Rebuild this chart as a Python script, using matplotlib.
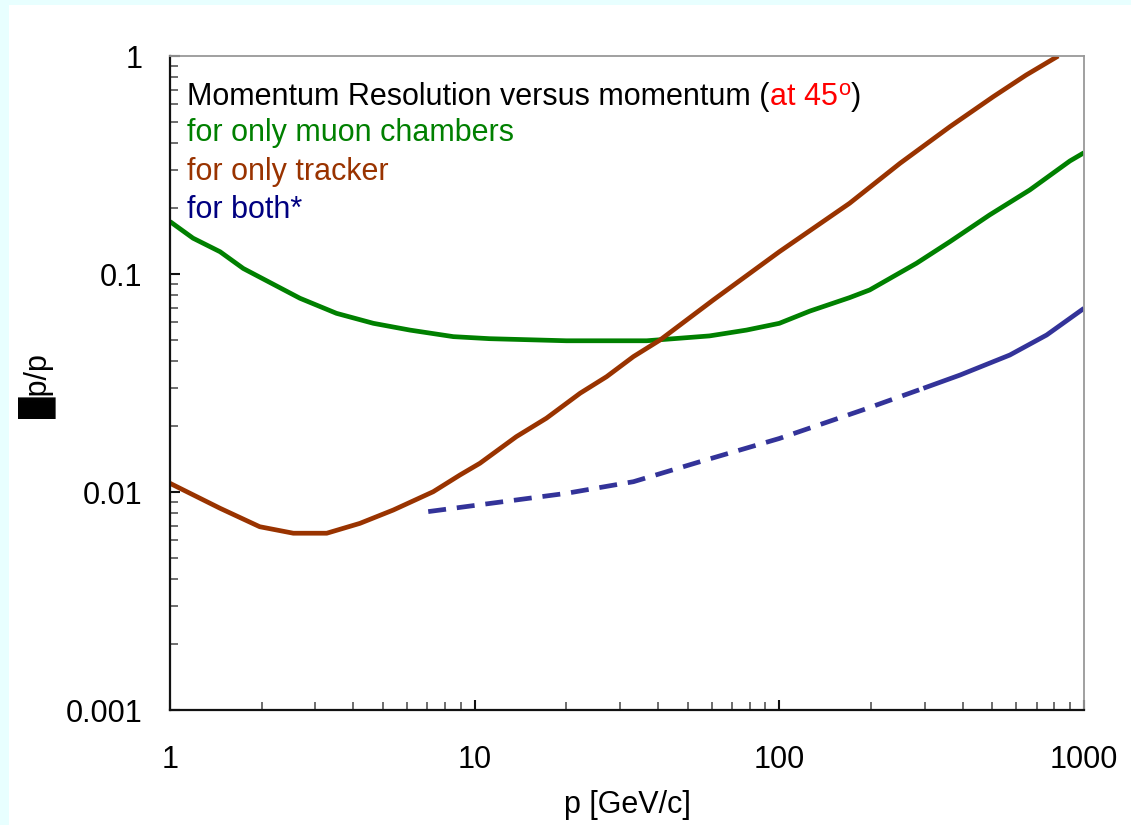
import matplotlib
matplotlib.use("Agg")
import matplotlib.pyplot as plt
from matplotlib.patches import Rectangle
from matplotlib.ticker import LogLocator, NullFormatter, FixedLocator, FixedFormatter

# ---- data ----
muon_p = [1, 1.19, 1.46, 1.74, 2.67, 3.52, 4.65, 6.13, 8.51, 11.2, 20, 36.7, 59, 78,
          100, 126, 170, 198, 282, 363, 490, 664, 899, 1000]
muon_v = [0.174, 0.146, 0.1265, 0.106, 0.0774, 0.066, 0.0594, 0.0553, 0.0516, 0.0505,
          0.0494, 0.0494, 0.052, 0.0553, 0.0594, 0.0676, 0.0779, 0.0845, 0.112, 0.1407,
          0.1866, 0.243, 0.33, 0.36]

tracker_p = [1, 1.46, 1.97, 2.54, 3.27, 4.2, 5.41, 7.31, 8.95, 10.4, 13.7, 17.2, 22.2,
             27.1, 33.2, 40.6, 60.7, 100, 170, 249, 363, 504, 646, 823]
tracker_v = [0.01096, 0.00842, 0.00693, 0.00647, 0.00647, 0.00718, 0.00827, 0.01003,
             0.01197, 0.01354, 0.01794, 0.0218, 0.0284, 0.0338, 0.0418, 0.0498, 0.076,
             0.1265, 0.211, 0.322, 0.474, 0.651, 0.818, 1.0]

both_dash_p = [7.04, 20, 33.2, 54.9, 100, 188, 297]
both_dash_v = [0.00813, 0.00986, 0.01115, 0.01377, 0.0176, 0.0238, 0.0299]
both_solid_p = [297, 392, 571, 754, 1000]
both_solid_v = [0.0299, 0.0344, 0.0425, 0.0525, 0.0696]

x_ticks = [1, 10, 100, 1000]
x_ticklabels = ["1", "10", "100", "1000"]
y_ticks = [0.001, 0.01, 0.1, 1]
y_ticklabels = ["0.001", "0.01", "0.1", "1"]

GREEN = "#008000"
BROWN = "#993300"
BLUE = "#333399"
NAVY = "#000080"

plt.rcParams["font.family"] = ["Liberation Sans", "DejaVu Sans"]
FS = 22

W, H = 1131, 825
fig = plt.figure(figsize=(W / 100, H / 100), dpi=100, facecolor="white")
# light cyan border strips
fig.patches.append(Rectangle((0, 0), 9 / W, 1, transform=fig.transFigure,
                             facecolor="#E8FFFF", edgecolor="none", zorder=-10))
fig.patches.append(Rectangle((0, 1 - 5 / H), 1, 5 / H, transform=fig.transFigure,
                             facecolor="#E8FFFF", edgecolor="none", zorder=-10))

ax = fig.add_axes([170 / W, 1 - 710 / H, (1084 - 170) / W, (710 - 56) / H])
ax.set_xscale("log")
ax.set_yscale("log")
ax.set_xlim(1, 1000)
ax.set_ylim(0.001, 1)

lw = 3.4
ax.plot(muon_p, muon_v, color=GREEN, lw=lw, solid_joinstyle="round", solid_capstyle="butt")
ax.plot(tracker_p, tracker_v, color=BROWN, lw=lw, solid_joinstyle="round", solid_capstyle="butt")
ax.plot(both_dash_p, both_dash_v, color=BLUE, lw=lw, dashes=(3.8, 2.3))
ax.plot(both_solid_p, both_solid_v, color=BLUE, lw=lw, solid_joinstyle="round", solid_capstyle="butt")

# axes styling
for s in ("top", "right"):
    ax.spines[s].set_color("#999999")
    ax.spines[s].set_linewidth(1.3)
for s in ("left", "bottom"):
    ax.spines[s].set_color("#111111")
    ax.spines[s].set_linewidth(1.6)

ax.xaxis.set_major_locator(FixedLocator(x_ticks))
ax.xaxis.set_major_formatter(FixedFormatter(x_ticklabels))
ax.yaxis.set_major_locator(FixedLocator(y_ticks))
ax.yaxis.set_major_formatter(FixedFormatter(y_ticklabels))
ax.xaxis.set_minor_locator(LogLocator(base=10, subs=range(2, 10)))
ax.yaxis.set_minor_locator(LogLocator(base=10, subs=range(2, 10)))
ax.xaxis.set_minor_formatter(NullFormatter())
ax.yaxis.set_minor_formatter(NullFormatter())

ax.tick_params(axis="both", which="major", direction="in", length=7.5, width=1.5,
               color="#111111", labelsize=FS)
ax.tick_params(axis="both", which="minor", direction="in", length=5.5, width=1.2,
               color="#555555")
ax.tick_params(axis="x", which="major", pad=25)
ax.tick_params(axis="y", which="major", pad=20)
ax.tick_params(top=False, right=False, which="both")

ax.set_xlabel("p [GeV/c]", fontsize=FS)
ax.xaxis.label.set_va("center")
ax.xaxis.set_label_coords(0.5, -0.145)
ax.set_ylabel("\u2588p/p", fontsize=FS)
ax.yaxis.label.set_va("center")
ax.yaxis.set_label_coords(-0.145, 0.495)

# annotation text
tx = 0.0186
t1 = ax.text(tx, 0.937, "Momentum Resolution versus momentum (", transform=ax.transAxes,
             fontsize=FS, color="black", va="center", ha="left")
t2 = ax.annotate("at 45", xy=(1, 0), xycoords=t1, fontsize=FS, color="red",
                 va="bottom", ha="left")
t3 = ax.annotate("o", xy=(1, 0), xycoords=t2, xytext=(0.5, 9), textcoords="offset points",
                 fontsize=FS * 0.72, color="red", va="bottom", ha="left")
t4 = ax.annotate(")", xy=(1, 0), xycoords=t3, xytext=(0.5, -9), textcoords="offset points",
                 fontsize=FS, color="black", va="bottom", ha="left")

ax.text(tx, 0.882, "for only muon chambers", transform=ax.transAxes, fontsize=FS,
        color=GREEN, va="center", ha="left")
ax.text(tx, 0.823, "for only tracker", transform=ax.transAxes, fontsize=FS,
        color=BROWN, va="center", ha="left")
ax.text(tx, 0.765, "for both*", transform=ax.transAxes, fontsize=FS,
        color=NAVY, va="center", ha="left")

fig.savefig("out.png", dpi=100, facecolor=fig.get_facecolor())
